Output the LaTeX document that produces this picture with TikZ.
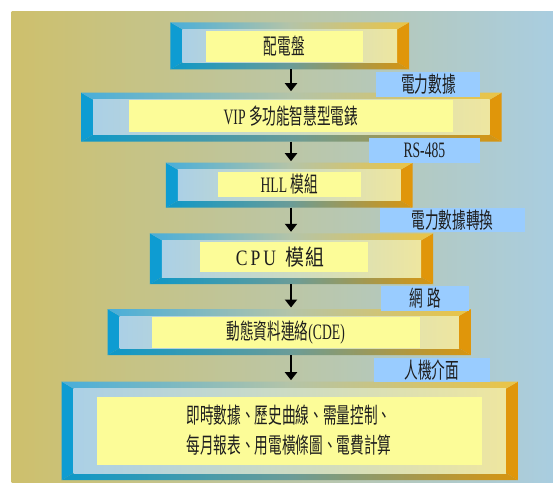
\documentclass[tikz,border=0pt]{standalone}
\usepackage{fontspec}
\setmainfont[FakeStretch=0.62]{Liberation Serif}
\newfontfamily\cjk[FakeStretch=0.62]{Noto Sans CJK TC}
\newfontfamily\cjkw[FakeStretch=0.86]{Noto Sans CJK TC}
\newfontfamily\latw[FakeStretch=0.8]{Liberation Serif}
\usetikzlibrary{arrows.meta}
\definecolor{bgL}{HTML}{CEC06C}
\definecolor{bgM}{HTML}{BCC6A4}
\definecolor{bgR}{HTML}{A9CDE0}
\definecolor{bvblue}{HTML}{0E9CD2}
\definecolor{bvorange}{HTML}{E0960A}
\definecolor{tpL}{HTML}{48AEDA}
\definecolor{tpM}{HTML}{B4C4A8}
\definecolor{tpR}{HTML}{EBC444}
\definecolor{btL}{HTML}{0D98C8}
\definecolor{btM}{HTML}{6A9C98}
\definecolor{btR}{HTML}{D8950E}
\definecolor{inL}{HTML}{ABD0E6}
\definecolor{inR}{HTML}{EEE6A0}
\definecolor{ylw}{HTML}{FCFC98}
\definecolor{lblue}{HTML}{99CCFF}
\definecolor{ink}{HTML}{1E1E1E}
\newcommand\bevbox[5]{%
  \fill[bvblue] (#2,#4) -- ({#2+12},{#4+7}) -- ({#2+12},{#5-7}) -- (#2,#5) -- cycle;
  \fill[bvorange] (#3,#4) -- ({#3-12},{#4+7}) -- ({#3-12},{#5-7}) -- (#3,#5) -- cycle;
  \shade[left color=tpL, right color=tpR, middle color=tpM] (#2,#4) -- (#3,#4) -- ({#3-12},{#4+7}) -- ({#2+12},{#4+7}) -- cycle;
  \shade[left color=btL, right color=btR, middle color=btM] (#2,#5) -- (#3,#5) -- ({#3-12},{#5-7}) -- ({#2+12},{#5-7}) -- cycle;
  \shade[left color=inL, right color=inR] ({#2+12},{#4+7}) rectangle ({#3-12},{#5-7});
  \coordinate (#1t) at ({(#2+#3)/2},#4);
  \coordinate (#1b) at ({(#2+#3)/2},#5);
}
\tikzset{
  txt/.style={text=ink, inner sep=0pt, font=\fontsize{22}{29.5}\selectfont, align=center},
  lbl/.style={fill=lblue, text=ink, inner sep=0pt, font=\fontsize{22}{26}\selectfont},
  arr/.style={line width=2.2pt, draw=black, -{Triangle[width=12pt,length=8pt]}, shorten >=1.5pt},
}
\begin{document}
\begin{tikzpicture}[x=1pt,y=-1pt]
\useasboundingbox (0,0) rectangle (553,482);
\shade[left color=bgL, right color=bgR, middle color=bgM] (11.6,11) rectangle (553,482);
\coordinate (ax) at (291,0);
% boxes
\bevbox{o1}{170.4}{409.2}{22.3}{69.3}
\bevbox{o2}{81.1}{501.6}{92.7}{141.7}
\bevbox{o3}{165.8}{412.7}{162.7}{207.7}
\bevbox{o4}{149.9}{433.2}{233.3}{284}
\bevbox{o5}{107.6}{470.9}{309}{355}
\bevbox{o6}{61.7}{517.8}{381.7}{480}
% yellow panels and texts
\fill[ylw] (206,31) rectangle (362.6,61.7);
\node[txt] (n1) at (284.3,46.3) {\cjk 配電盤};
\fill[ylw] (129.1,100) rectangle (452.6,131.7);
\node[txt] (n2) at (290.9,115.9) {VIP {\cjk 多功能智慧型電錶}};
\fill[ylw] (217.6,172.3) rectangle (360.8,196.7);
\node[txt] (n3) at (289.2,184.5) {HLL {\cjk 模組}};
\fill[ylw] (200,242.3) rectangle (367.9,271.7);
\node[txt] (n4) at (280,257) {\latw C\kern3pt P\kern3pt U\kern9pt{\cjkw 模\kern1pt 組}};
\fill[ylw] (151.7,316.7) rectangle (419.8,347.7);
\node[txt] (n5) at (285.7,332.2) {{\cjk 動態資料連絡}(CDE)};
\fill[ylw] (97,396.7) rectangle (481.5,465);
\node[txt] (n6) at (289,430) {\cjk 即時數據、歷史曲線、需量控制、\\ \cjk 每月報表、用電橫條圖、電費計算};
% arrows
\draw[arr] (o1b -| ax) -- (o2t -| ax);
\draw[arr] (o2b -| ax) -- (o3t -| ax);
\draw[arr] (o3b -| ax) -- (o4t -| ax);
\draw[arr] (o4b -| ax) -- (o5t -| ax);
\draw[arr] (o5b -| ax) -- (o6t -| ax);
% labels
\node[lbl, minimum width=104pt, minimum height=25pt] (l1) at (428.4,84.2) {\cjk 電力數據};
\node[lbl, minimum width=110.2pt, minimum height=25.6pt] (l2) at (424.4,150.5) {RS-485};
\node[lbl, minimum width=145pt, minimum height=24pt] (l3) at (452.4,219.7) {\cjk 電力數據轉換};
\node[lbl, minimum width=88.1pt, minimum height=25pt] (l4) at (425,298.2) {\cjk 網\kern4pt 路};
\node[lbl, minimum width=115.7pt, minimum height=24.6pt] (l5) at (431.7,370) {\cjk 人機介面};
\end{tikzpicture}
\end{document}
